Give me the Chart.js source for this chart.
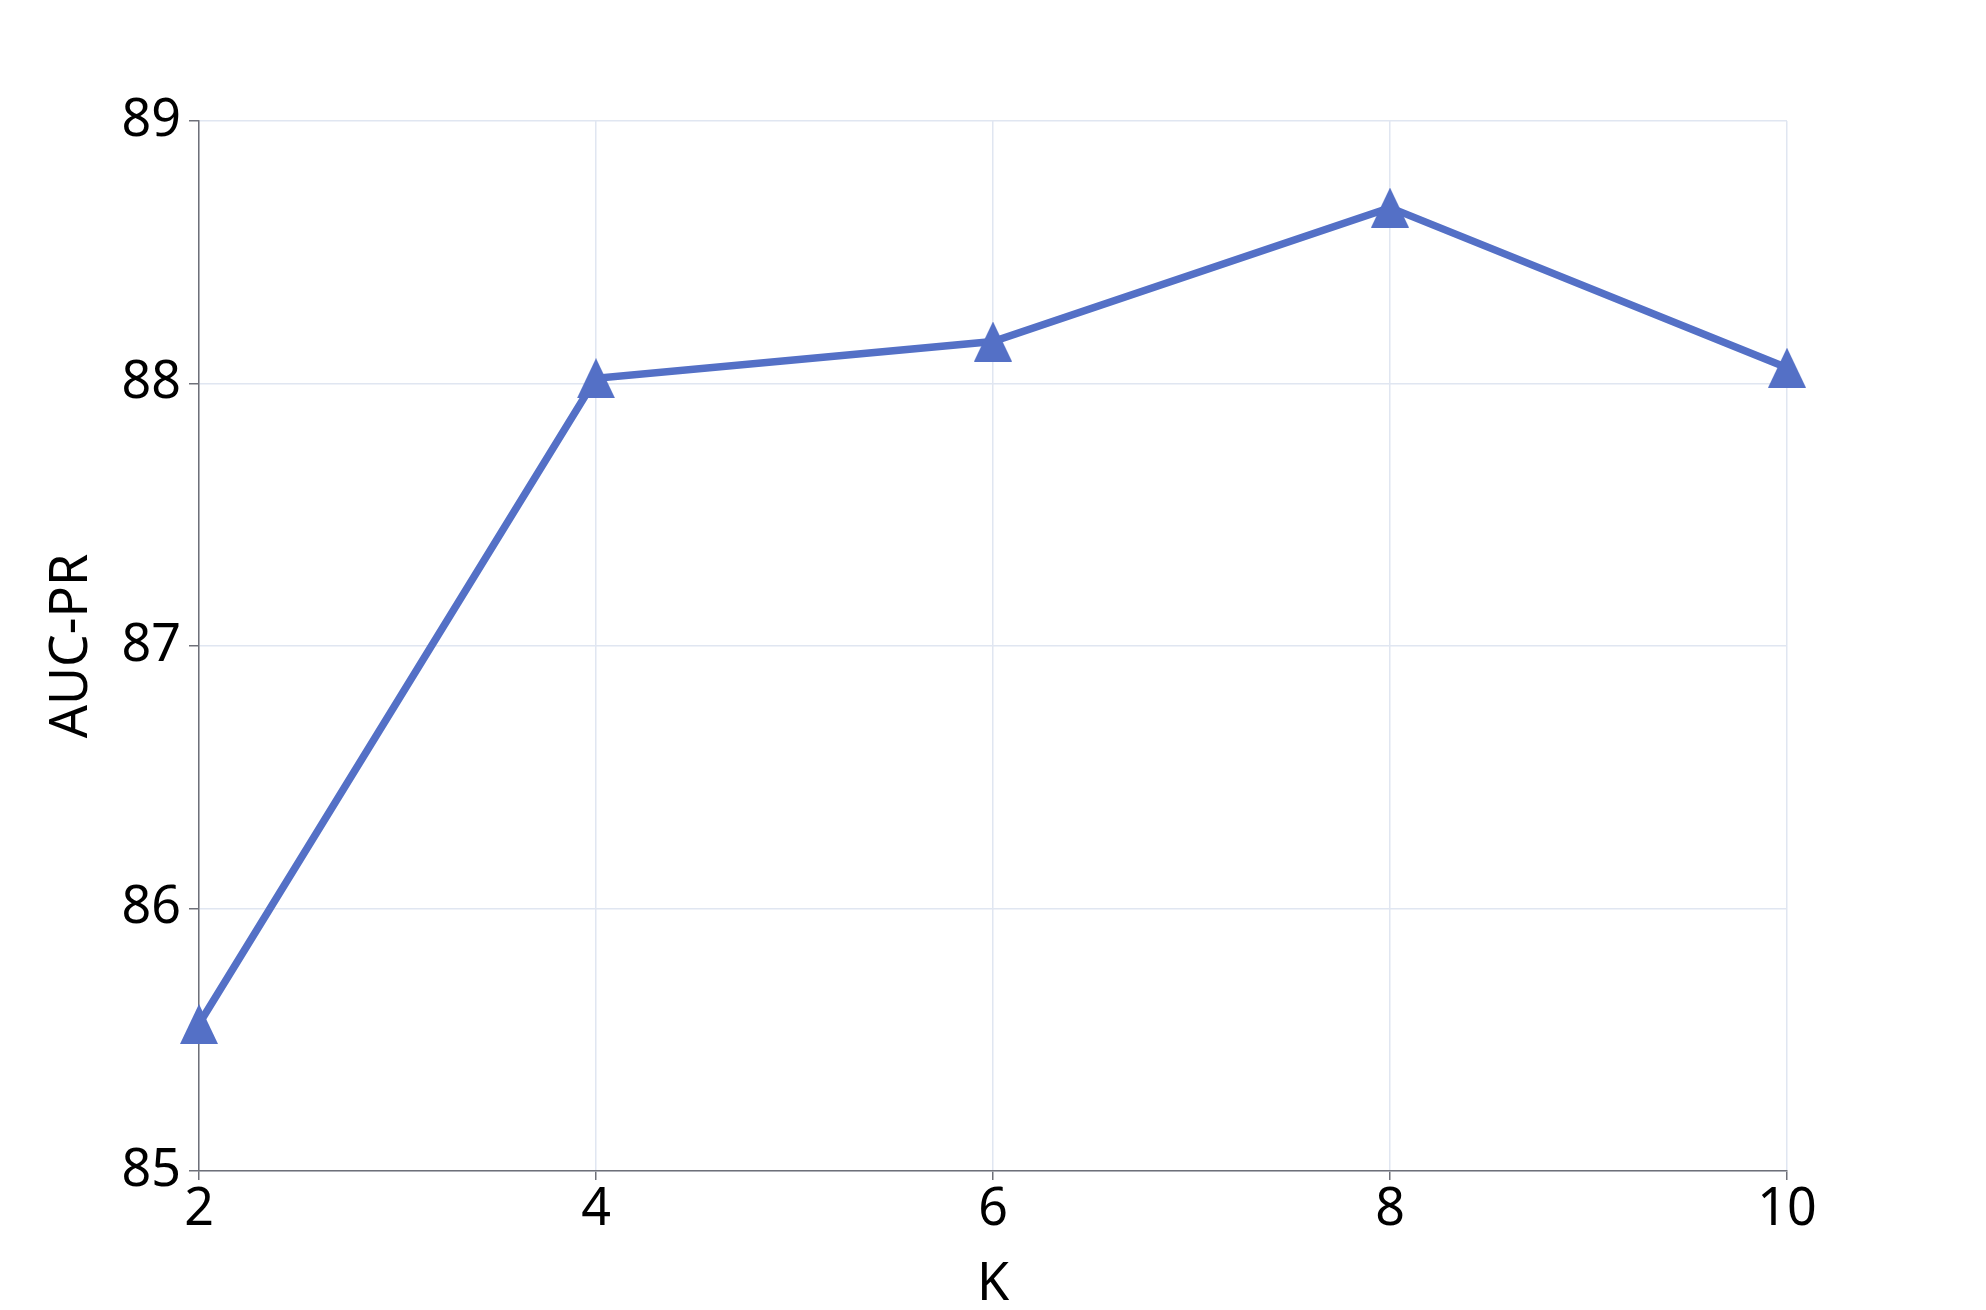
<!DOCTYPE html>
<html>
<head>
<meta charset="utf-8">
<script src="https://cdn.jsdelivr.net/npm/chart.js@4/dist/chart.umd.min.js"></script>
<style>
  html, body { margin: 0; padding: 0; background: #ffffff; }
  #wrap { width: 1986px; height: 1310px; }
</style>
</head>
<body>
<div id="wrap"><canvas id="c" width="1986" height="1310"></canvas></div>
<script>
const kValues = [2, 4, 6, 8, 10];
const aucPR = [85.56, 88.02, 88.16, 88.67, 88.06];
const yTicks = [85, 86, 87, 88, 89];
const xTitle = 'K';
const yTitle = 'AUC-PR';

const lineColor = '#5470c6';
const axisColor = '#6e7079';
const gridColor = '#e0e6f1';
const fontFamily = '"Noto Sans", "Open Sans", sans-serif';

// triangle marker centred on its bounding box
function makeTriangle(w, h, color) {
  const cv = document.createElement('canvas');
  cv.width = w; cv.height = h;
  const ctx = cv.getContext('2d');
  ctx.fillStyle = color;
  ctx.beginPath();
  ctx.moveTo(w / 2, 0);
  ctx.lineTo(w, h);
  ctx.lineTo(0, h);
  ctx.closePath();
  ctx.fill();
  return cv;
}
const tri = makeTriangle(38, 40, lineColor);

new Chart(document.getElementById('c'), {
  type: 'line',
  data: {
    datasets: [{
      data: kValues.map((k, i) => ({ x: k, y: aucPR[i] })),
      borderColor: lineColor,
      backgroundColor: lineColor,
      borderWidth: 7.5,
      pointStyle: tri,
      pointRadius: 20,
      pointHoverRadius: 20,
      tension: 0,
      clip: false
    }]
  },
  options: {
    responsive: false,
    animation: false,
    devicePixelRatio: 1,
    layout: { padding: { left: 0, top: 121, right: 199, bottom: 0 } },
    plugins: { legend: { display: false }, tooltip: { enabled: false } },
    scales: {
      x: {
        type: 'linear',
        min: 2, max: 10,
        afterFit: s => { s.height = 139; },
        afterBuildTicks: s => { s.ticks = kValues.map(v => ({ value: v })); },
        border: { display: true, color: axisColor, width: 1.5 },
        grid: { color: gridColor, lineWidth: 1.5, tickColor: axisColor, tickLength: 9, drawTicks: true },
        ticks: { color: '#000', font: { family: fontFamily, size: 52 }, padding: -1, maxRotation: 0 },
        title: { display: true, text: xTitle, color: '#000', font: { family: fontFamily, size: 52 }, padding: { top: 0, bottom: -6 } }
      },
      y: {
        min: 85, max: 89,
        afterFit: s => { s.width = 199; },
        afterBuildTicks: s => { s.ticks = yTicks.map(v => ({ value: v })); },
        border: { display: true, color: axisColor, width: 1.5 },
        grid: { color: gridColor, lineWidth: 1.5, tickColor: axisColor, tickLength: 10, drawTicks: true },
        ticks: { color: '#000', font: { family: fontFamily, size: 52 }, padding: 8 },
        title: { display: true, text: yTitle, color: '#000', font: { family: fontFamily, size: 52 }, padding: { top: 41, bottom: 0 } }
      }
    }
  }
});
</script>
</body>
</html>
